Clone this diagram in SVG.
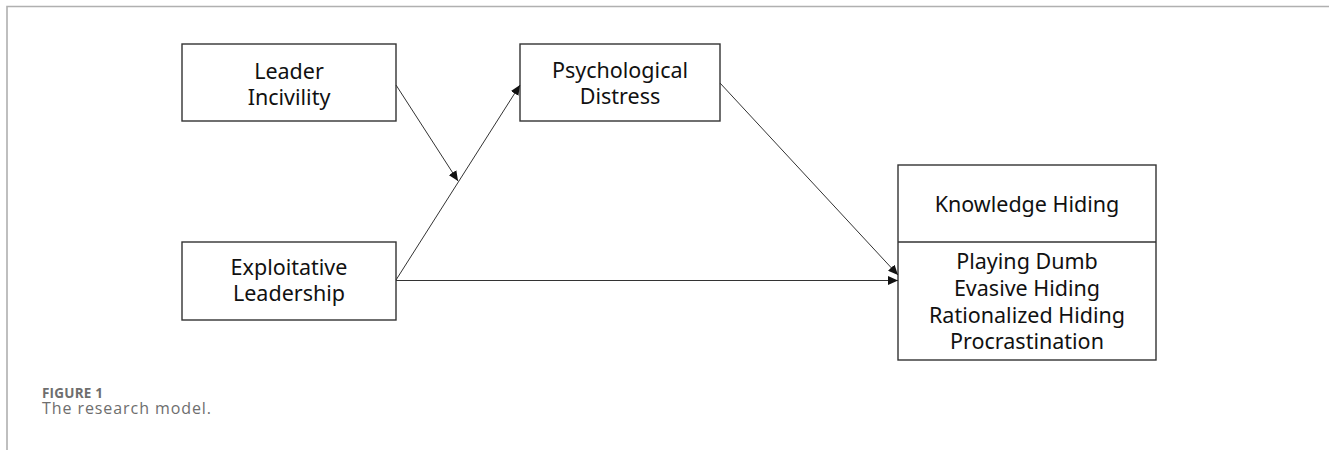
<svg xmlns="http://www.w3.org/2000/svg" width="1329" height="450" viewBox="0 0 1329 450">
<defs>
<style>
.box{fill:#fff;stroke:#333;stroke-width:1.4}
.lbl{font-family:"Noto Sans","Open Sans",sans-serif;font-size:21.5px;fill:#111;text-anchor:middle}
.edge{fill:none;stroke:#333;stroke-width:1}
.frame{fill:none;stroke:#b0b0b0;stroke-width:1.6}
.cap1{font-family:"Open Sans","Lato",sans-serif;font-size:13.5px;font-weight:bold;fill:#6e6e6e}
.cap2{font-family:"Open Sans","Lato",sans-serif;font-size:16px;fill:#6e6e6e}
</style>
<marker id="arr" markerWidth="11" markerHeight="9" refX="10" refY="4.5" orient="auto" markerUnits="userSpaceOnUse">
<path d="M0,0 L10,4.5 L0,9 Z" fill="#111"/>
</marker>
</defs>
<rect width="1329" height="450" fill="#fff"/>
<path class="frame" d="M7,450 L7,6.5 L1329,6.5"/>

<g id="leader-incivility">
<rect class="box" x="182" y="44" width="214" height="77"/>
<text class="lbl" x="289" y="79">Leader</text>
<text class="lbl" x="289" y="105">Incivility</text>
</g>

<g id="psychological-distress">
<rect class="box" x="520" y="44" width="200" height="77"/>
<text class="lbl" x="620" y="78">Psychological</text>
<text class="lbl" x="620" y="104">Distress</text>
</g>

<g id="exploitative-leadership">
<rect class="box" x="182" y="242" width="214" height="78"/>
<text class="lbl" x="289" y="275">Exploitative</text>
<text class="lbl" x="289" y="301">Leadership</text>
</g>

<g id="knowledge-hiding">
<rect class="box" x="898" y="165" width="258" height="195"/>
<line class="box" x1="898" y1="242" x2="1156" y2="242"/>
<text class="lbl" x="1027" y="212">Knowledge Hiding</text>
<text class="lbl" x="1027" y="269">Playing Dumb</text>
<text class="lbl" x="1027" y="296">Evasive Hiding</text>
<text class="lbl" x="1027" y="322.5">Rationalized Hiding</text>
<text class="lbl" x="1027" y="349">Procrastination</text>
</g>

<g id="connectors">
<line class="edge" x1="396" y1="85" x2="458" y2="181" marker-end="url(#arr)"/>
<line class="edge" x1="396" y1="280" x2="520" y2="85" marker-end="url(#arr)"/>
<line class="edge" x1="720" y1="83" x2="898" y2="275" marker-end="url(#arr)"/>
<line class="edge" x1="396" y1="280.5" x2="898" y2="280.5" marker-end="url(#arr)"/>
</g>

<g id="caption">
<text class="cap1" x="42" y="398" textLength="61" lengthAdjust="spacing">FIGURE 1</text>
<text class="cap2" x="42" y="413.5" textLength="169" lengthAdjust="spacing">The research model.</text>
</g>
</svg>
